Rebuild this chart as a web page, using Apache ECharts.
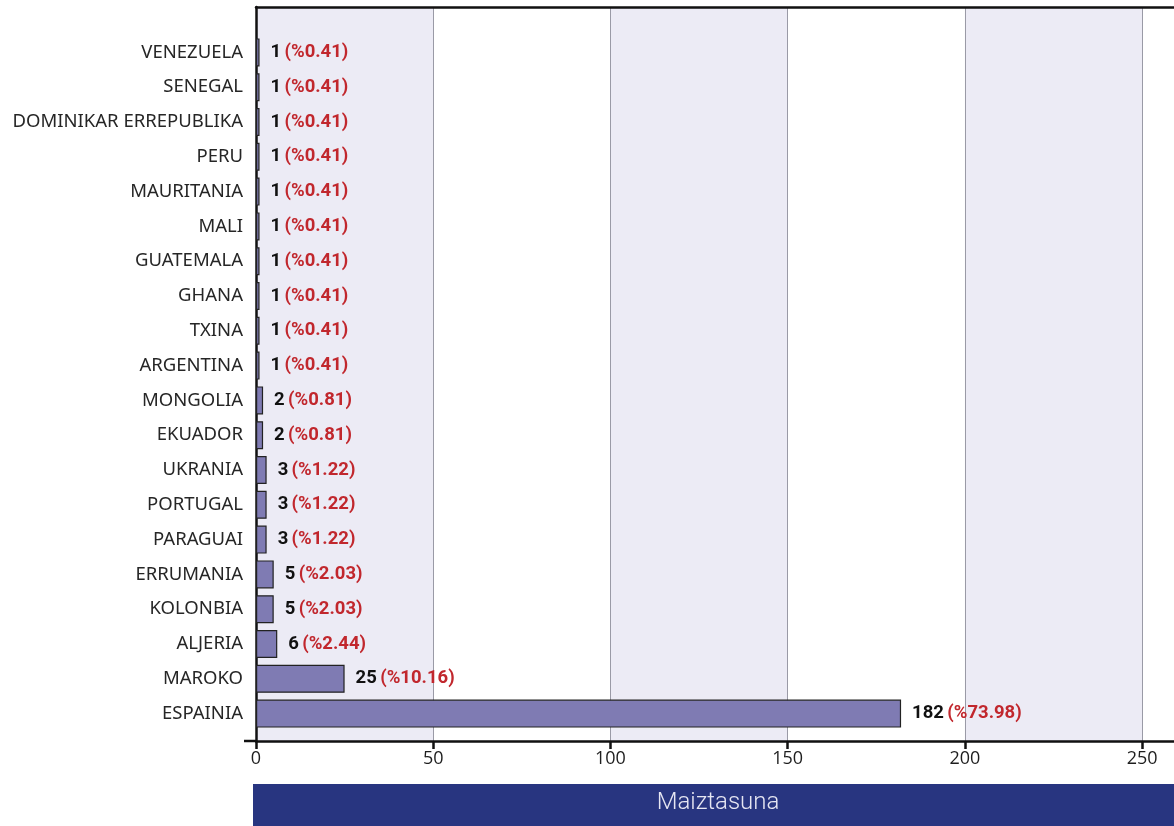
<!DOCTYPE html>
<html>
<head>
<meta charset="utf-8">
<script src="https://cdn.jsdelivr.net/npm/echarts@6/dist/echarts.min.js"></script>
<style>
html,body{margin:0;padding:0;background:#fff;}
#chart{width:1174px;height:826px;}
</style>
</head>
<body>
<div id="chart"></div>
<script>
// categories listed bottom-to-top
var categories = ['ESPAINIA','MAROKO','ALJERIA','KOLONBIA','ERRUMANIA','PARAGUAI','PORTUGAL','UKRANIA','EKUADOR','MONGOLIA','ARGENTINA','TXINA','GHANA','GUATEMALA','MALI','MAURITANIA','PERU','DOMINIKAR ERREPUBLIKA','SENEGAL','VENEZUELA'];
var counts = [182,25,6,5,5,3,3,3,2,2,1,1,1,1,1,1,1,1,1,1];
var percents = ['73.98','10.16','2.44','2.03','2.03','1.22','1.22','1.22','0.81','0.81','0.41','0.41','0.41','0.41','0.41','0.41','0.41','0.41','0.41','0.41'];
var axisTitle = 'Maiztasuna';
var xMin = 0, xMax = 259, xInterval = 50;

var narrow = "Roboto,'Liberation Sans Narrow',sans-serif";
var chart = echarts.init(document.getElementById('chart'));
chart.setOption({
  animation: false,
  grid: [
    {left: 256, top: 7, right: 0, bottom: 85, containLabel: false},
    {left: 256, top: 35, right: 0, bottom: 95, containLabel: false}
  ],
  xAxis: [
    {
      gridIndex: 0, type: 'value', min: xMin, max: xMax, interval: xInterval,
      axisLine: {show: true, lineStyle: {color: '#111', width: 2.5}},
      axisTick: {show: true, length: 8, lineStyle: {color: '#111', width: 2.5}},
      axisLabel: {fontFamily: "'Open Sans',sans-serif", fontSize: 18, color: '#1e1e1e', margin: 9, showMaxLabel: false},
      splitLine: {show: true, lineStyle: {color: '#9a9aa6', width: 1}},
      splitArea: {show: true, areaStyle: {color: ['#ecebf5', '#ffffff']}}
    },
    {
      gridIndex: 0, type: 'value', position: 'top', min: xMin, max: xMax, interval: xInterval,
      axisLine: {show: true, lineStyle: {color: '#111', width: 2.5}},
      axisTick: {show: false}, axisLabel: {show: false}, splitLine: {show: false}
    },
    {
      gridIndex: 1, type: 'value', min: xMin, max: xMax, interval: xInterval, show: false
    }
  ],
  yAxis: [
    {
      gridIndex: 0, type: 'value', min: 0, max: 1,
      axisLine: {show: true, lineStyle: {color: '#111', width: 2.5}},
      axisTick: {show: false}, axisLabel: {show: false}, splitLine: {show: false}
    },
    {
      gridIndex: 1, type: 'category', data: categories,
      axisLine: {show: false}, axisTick: {show: false},
      axisLabel: {fontFamily: "'Noto Sans','Open Sans',sans-serif", fontSize: 18.5, color: '#262626', margin: 13}
    }
  ],
  series: [{
    type: 'bar', xAxisIndex: 2, yAxisIndex: 1,
    data: counts, barWidth: 28,
    itemStyle: {color: '#7f7bb3', borderColor: '#222', borderWidth: 1.2},
    label: {
      show: true, position: 'right', distance: 11,
      formatter: function (p) { return '{a|' + counts[p.dataIndex] + '} {b|(%' + percents[p.dataIndex] + ')}'; },
      rich: {
        a: {fontFamily: narrow, fontWeight: 'bold', fontSize: 18.5, color: '#111'},
        b: {fontFamily: narrow, fontWeight: 'bold', fontSize: 18.5, color: '#c1272d'}
      }
    }
  }],
  graphic: [
    {type: 'line', shape: {x1: 244, y1: 741, x2: 257, y2: 741}, style: {stroke: '#111', lineWidth: 2.5}},
    {type: 'rect', shape: {x: 253, y: 784, width: 921, height: 42}, style: {fill: '#283580'}},
    {type: 'text', x: 718, y: 803, style: {text: axisTitle, fill: '#e6e6f2', fontFamily: "Roboto,sans-serif", fontWeight: 300, fontSize: 24, align: 'center', verticalAlign: 'middle'}}
  ]
});
</script>
</body>
</html>
